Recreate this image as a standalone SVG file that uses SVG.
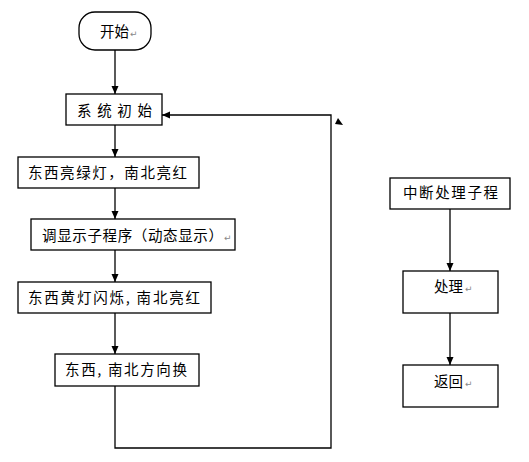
<svg xmlns="http://www.w3.org/2000/svg" width="529" height="462" viewBox="0 0 529 462">
<style>
.box{fill:#fff;stroke:#000;stroke-width:1.3}
.t{font-family:"Noto Sans CJK SC","Noto Sans",sans-serif;font-size:14.5px;fill:#000}
.pm{font-family:"DejaVu Sans",sans-serif;font-size:9px;fill:#888}
.ln{fill:none;stroke:#000;stroke-width:1.3}
</style>
<defs>
<marker id="ah" viewBox="0 0 8 8" refX="8" refY="4" markerWidth="8" markerHeight="8" markerUnits="userSpaceOnUse" orient="auto">
<path d="M0,0.5 L8,4 L0,7.5 Z" fill="#000"/>
</marker>
</defs>
<rect width="529" height="462" fill="#fff"/>
<g id="connectors">
<line class="ln" x1="115" y1="50" x2="115" y2="94" marker-end="url(#ah)"/>
<line class="ln" x1="115" y1="125" x2="115" y2="157" marker-end="url(#ah)"/>
<line class="ln" x1="115" y1="188" x2="115" y2="219" marker-end="url(#ah)"/>
<line class="ln" x1="115" y1="250" x2="115" y2="282" marker-end="url(#ah)"/>
<line class="ln" x1="115" y1="313" x2="115" y2="354" marker-end="url(#ah)"/>
<polyline class="ln" points="115,386 115,448 331,448 331,115 162,115" marker-end="url(#ah)"/>
<polygon points="338,118 343,125 335,124" fill="#000"/>
<line class="ln" x1="450" y1="209" x2="450" y2="271" marker-end="url(#ah)"/>
<line class="ln" x1="450" y1="313" x2="450" y2="365" marker-end="url(#ah)"/>
</g>
<g id="start">
<rect class="box" x="79" y="12" width="72" height="38" rx="16" ry="16"/>
<text class="t" x="100" y="37">开始</text><text class="pm" x="130" y="37">↵</text>
</g>
<g id="init">
<rect class="box" x="66" y="94" width="96" height="31"/>
<text class="t" x="77" y="116" textLength="75" lengthAdjust="spacing">系统初始</text>
</g>
<g id="ewgreen">
<rect class="box" x="18" y="157" width="181" height="31"/>
<text class="t" x="28" y="178" textLength="159" lengthAdjust="spacing">东西亮绿灯，南北亮红</text>
</g>
<g id="display">
<rect class="box" x="31" y="219" width="204" height="31"/>
<text class="t" x="42" y="241" textLength="181" lengthAdjust="spacing">调显示子程序（动态显示）</text><text class="pm" x="224" y="241">↵</text>
</g>
<g id="ewyellow">
<rect class="box" x="18" y="282" width="193" height="31"/>
<text class="t" x="28" y="303" textLength="172" lengthAdjust="spacing">东西黄灯闪烁, 南北亮红</text>
</g>
<g id="switch">
<rect class="box" x="55" y="354" width="144" height="32"/>
<text class="t" x="65" y="375" textLength="122" lengthAdjust="spacing">东西, 南北方向换</text>
</g>
<g id="isr">
<rect class="box" x="390" y="178" width="120" height="31"/>
<text class="t" x="403" y="198" textLength="95" lengthAdjust="spacing">中断处理子程</text>
</g>
<g id="process">
<rect class="box" x="403" y="271" width="95" height="42"/>
<text class="t" x="434" y="292">处理</text><text class="pm" x="465" y="292">↵</text>
</g>
<g id="return">
<rect class="box" x="403" y="365" width="95" height="42"/>
<text class="t" x="434" y="387">返回</text><text class="pm" x="465" y="387">↵</text>
</g>
</svg>
